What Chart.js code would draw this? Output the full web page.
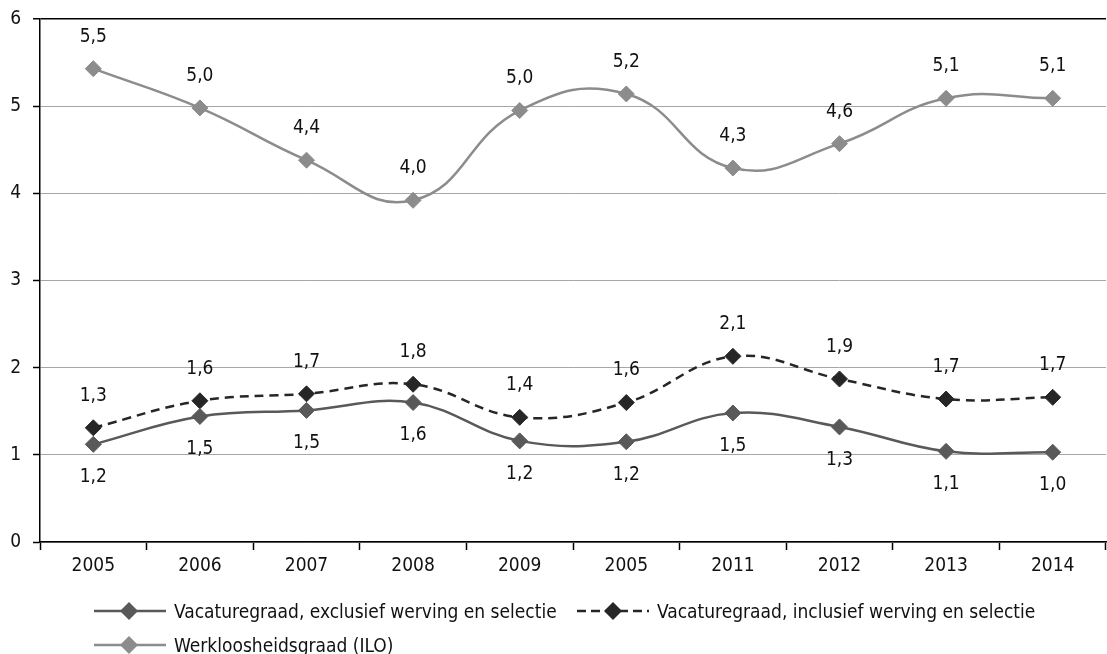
<!DOCTYPE html>
<html>
<head>
<meta charset="utf-8">
<script src="https://cdn.jsdelivr.net/npm/chart.js@4.4.1/dist/chart.umd.min.js"></script>
<style>
  html, body { margin: 0; padding: 0; background: #fff; }
  #wrap { position: relative; width: 1107px; height: 654px; font-family: "DejaVu Sans Condensed", "DejaVu Sans", sans-serif; }
  #c { position: absolute; left: 0; top: 0; }
  .leg { position: absolute; display: flex; align-items: center; font-size: 19px; color: #111; white-space: nowrap; }
  .leg svg { margin-right: 7px; }
</style>
</head>
<body>
<div id="wrap">
  <canvas id="c" width="1107" height="654"></canvas>
  <div class="leg" style="left:93px; top:599px;">
    <svg width="74" height="24"><line x1="1" y1="12" x2="73" y2="12" stroke="#595959" stroke-width="2.5"/><polygon points="36,3 45,12 36,21 27,12" fill="#595959"/></svg>
    <span>Vacaturegraad, exclusief werving en selectie</span>
  </div>
  <div class="leg" style="left:576px; top:599px;">
    <svg width="74" height="24"><line x1="1" y1="12" x2="73" y2="12" stroke="#262626" stroke-width="2.5" stroke-dasharray="9,5"/><polygon points="37,3 46,12 37,21 28,12" fill="#262626"/></svg>
    <span>Vacaturegraad, inclusief werving en selectie</span>
  </div>
  <div class="leg" style="left:93px; top:633px;">
    <svg width="74" height="24"><line x1="1" y1="12" x2="73" y2="12" stroke="#8c8c8c" stroke-width="2.5"/><polygon points="36,3 45,12 36,21 27,12" fill="#8c8c8c"/></svg>
    <span>Werkloosheidsgraad (ILO)</span>
  </div>
</div>
<script>
const categories = ['2005', '2006', '2007', '2008', '2009', '2005', '2011', '2012', '2013', '2014'];
const exclValues = [1.12, 1.44, 1.51, 1.60, 1.16, 1.15, 1.48, 1.32, 1.04, 1.03];
const inclValues = [1.31, 1.62, 1.70, 1.81, 1.43, 1.60, 2.13, 1.87, 1.64, 1.66];
const unempValues = [5.43, 4.98, 4.38, 3.92, 4.95, 5.14, 4.29, 4.57, 5.09, 5.09];
const exclLabels = ['1,2', '1,5', '1,5', '1,6', '1,2', '1,2', '1,5', '1,3', '1,1', '1,0'];
const inclLabels = ['1,3', '1,6', '1,7', '1,8', '1,4', '1,6', '2,1', '1,9', '1,7', '1,7'];
const unempLabels = ['5,5', '5,0', '4,4', '4,0', '5,0', '5,2', '4,3', '4,6', '5,1', '5,1'];
const yTicks = [0, 1, 2, 3, 4, 5, 6];

const FONT = '"DejaVu Sans Condensed", "DejaVu Sans", sans-serif';

const labelPlugin = {
  id: 'valueLabels',
  afterDatasetsDraw(chart) {
    const ctx = chart.ctx;
    ctx.save();
    ctx.font = '19px ' + FONT;
    ctx.fillStyle = '#111';
    ctx.textAlign = 'center';
    ctx.textBaseline = 'middle';
    chart.data.datasets.forEach((ds, i) => {
      const meta = chart.getDatasetMeta(i);
      meta.data.forEach((pt, j) => {
        const off = ds.labelBelow ? 33 : -32;
        ctx.fillText(ds.valueLabels[j], pt.x, pt.y + off);
      });
    });
    ctx.restore();
  }
};

new Chart(document.getElementById('c'), {
  type: 'line',
  data: {
    labels: categories,
    datasets: [
      {
        label: 'Vacaturegraad, exclusief werving en selectie',
        data: exclValues,
        valueLabels: exclLabels,
        labelBelow: true,
        borderColor: '#595959',
        backgroundColor: '#595959',
        borderWidth: 2.5,
        pointStyle: 'rectRot',
        pointRadius: 8,
        pointBorderWidth: 1,
        tension: 0.4
      },
      {
        label: 'Vacaturegraad, inclusief werving en selectie',
        data: inclValues,
        valueLabels: inclLabels,
        labelBelow: false,
        borderColor: '#262626',
        backgroundColor: '#262626',
        borderWidth: 2.5,
        borderDash: [9, 6],
        pointStyle: 'rectRot',
        pointRadius: 8,
        pointBorderWidth: 1,
        tension: 0.4
      },
      {
        label: 'Werkloosheidsgraad (ILO)',
        data: unempValues,
        valueLabels: unempLabels,
        labelBelow: false,
        borderColor: '#8c8c8c',
        backgroundColor: '#8c8c8c',
        borderWidth: 2.5,
        pointStyle: 'rectRot',
        pointRadius: 8,
        pointBorderWidth: 1,
        tension: 0.45
      }
    ]
  },
  options: {
    responsive: false,
    animation: false,
    layout: { autoPadding: false, padding: { top: 19, right: 1, left: 0, bottom: 0 } },
    plugins: {
      legend: { display: false },
      tooltip: { enabled: false }
    },
    scales: {
      x: {
        offset: true,
        afterFit(scale) { scale.height = 112; scale.paddingLeft = 0; scale.paddingRight = 0; },
        border: { display: true, color: '#000', width: 1.5 },
        grid: { offset: true, drawOnChartArea: false, drawTicks: true, tickLength: 8, tickColor: '#000', tickWidth: 1.5 },
        ticks: { color: '#111', font: { family: FONT, size: 19 }, padding: 5, maxRotation: 0, autoSkip: false }
      },
      y: {
        min: 0,
        max: 6,
        afterFit(scale) { scale.width = 40; scale.paddingTop = 0; scale.paddingBottom = 0; },
        afterBuildTicks(scale) { scale.ticks = yTicks.map(v => ({ value: v })); },
        border: { display: true, color: '#000', width: 1.5 },
        grid: {
          color: (c) => (c.tick && c.tick.value === 6 ? '#000' : '#a6a6a6'),
          lineWidth: (c) => (c.tick && c.tick.value === 6 ? 1.5 : 1),
          tickColor: '#000',
          tickLength: 7,
          tickWidth: 1.5
        },
        ticks: { color: '#111', font: { family: FONT, size: 19 }, padding: 12 }
      }
    }
  },
  plugins: [labelPlugin]
});
</script>
</body>
</html>
